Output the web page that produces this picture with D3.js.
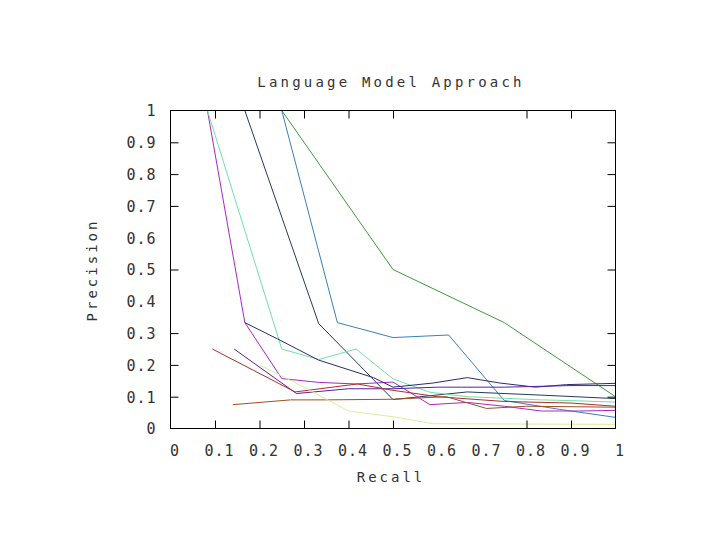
<!DOCTYPE html>
<html>
<head>
<meta charset="utf-8">
<script src="https://cdn.jsdelivr.net/npm/d3@7"></script>
<style>
  html, body { margin: 0; padding: 0; background: #fff; }
  text { font-family: "DejaVu Sans Mono", monospace; fill: #333; }
</style>
</head>
<body>
<svg id="chart" width="720" height="540"></svg>
<script>
// ---------- data ----------
const chartTitle = "Language Model Approach";
const xLabel = "Recall";
const yLabel = "Precision";
const xTickLabels = [0, 0.1, 0.2, 0.3, 0.4, 0.5, 0.6, 0.7, 0.8, 0.9, 1];
const yTickLabels = [0, 0.1, 0.2, 0.3, 0.4, 0.5, 0.6, 0.7, 0.8, 0.9, 1];
const xTickMarks = [0.1, 0.2, 0.3, 0.4, 0.5, 0.8, 0.9];
const yTickMarks = [0.1, 0.2, 0.3, 0.5, 0.7, 0.8, 0.9];

const recallA = [0.25, 0.5, 0.75, 1];
const precisionA = [1, 0.5, 0.333, 0.1];

const recallB = [0.125, 0.25, 0.375, 0.5, 0.625, 0.75, 0.875, 1];
const precisionB = [1, 1, 0.333, 0.286, 0.294, 0.088, 0.06, 0.035];

const recallC = [0.167, 0.333, 0.5, 0.667, 0.833, 1];
const precisionC = [1, 0.33, 0.091, 0.115, 0.105, 0.094];

const recallD = [0.083, 0.167, 0.25, 0.333, 0.417, 0.5, 0.583, 0.667, 0.75, 0.833, 0.917, 1];
const precisionD = [1, 0.333, 0.157, 0.145, 0.14, 0.146, 0.075, 0.082, 0.07, 0.055, 0.055, 0.057];

const recallE = [0.083, 0.25, 0.333, 0.417, 0.5, 0.583, 0.667, 0.75, 0.833, 0.917, 1];
const precisionE = [1, 0.25, 0.217, 0.25, 0.156, 0.114, 0.1, 0.095, 0.09, 0.087, 0.083];

const recallF = [0.167, 0.24, 0.333, 0.456, 0.5, 0.59, 0.667, 0.74, 0.82, 0.89, 1];
const precisionF = [0.333, 0.282, 0.215, 0.16, 0.13, 0.143, 0.16, 0.143, 0.13, 0.138, 0.142];

const recallG = [0.143, 0.283, 0.4, 0.5, 0.6, 0.75, 0.9, 1];
const precisionG = [0.25, 0.11, 0.125, 0.125, 0.13, 0.13, 0.135, 0.135];

const recallH = [0.094, 0.28, 0.42, 0.5, 0.6, 0.75, 0.9, 1];
const precisionH = [0.25, 0.115, 0.14, 0.12, 0.1, 0.085, 0.08, 0.07];

const recallI = [0.14, 0.27, 0.35, 0.5, 0.62, 0.71, 0.8, 1];
const precisionI = [0.075, 0.09, 0.09, 0.092, 0.1, 0.063, 0.07, 0.067];

const recallJ = [0.2, 0.3, 0.4, 0.5, 0.59, 1];
const precisionJ = [0.2, 0.13, 0.055, 0.037, 0.015, 0.013];

const seriesRecall = [recallA, recallB, recallC, recallD, recallE, recallF, recallG, recallH, recallI, recallJ];
const seriesPrecision = [precisionA, precisionB, precisionC, precisionD, precisionE, precisionF, precisionG, precisionH, precisionI, precisionJ];
const seriesColors = ["#3f9a3a", "#3a80b8", "#243a60", "#a828c4", "#70e0a8", "#2c2c6c", "#5a20a0", "#b02c2c", "#a0501e", "#d8f098"];

// ---------- layout ----------
const svg = d3.select("#chart");
const plotL = 170.5, plotR = 615.5, plotT = 110.5, plotB = 428.5;

const x = d3.scaleLinear().domain([0, 1]).range([plotL, plotR]);
const y = d3.scaleLinear().domain([0, 1]).range([plotB, plotT]);

// series
const line = d3.line().x(d => x(d[0])).y(d => y(d[1]));
const g = svg.append("g");
seriesRecall.forEach((rs, i) => {
  const pts = rs.map((r, k) => [r, seriesPrecision[i][k]]);
  g.append("path")
    .attr("d", line(pts))
    .attr("fill", "none")
    .attr("stroke", seriesColors[i])
    .attr("stroke-width", 1);
});

// frame
svg.append("rect")
  .attr("x", plotL).attr("y", plotT)
  .attr("width", plotR - plotL).attr("height", plotB - plotT)
  .attr("fill", "none").attr("stroke", "#000").attr("stroke-width", 1);

// tick marks (inward, mirrored)
const tickLen = 8;
function marks(axis) {
  return sel => {
    sel.call(axis);
    sel.select(".domain").remove();
    sel.selectAll(".tick line").attr("stroke", "#000");
    sel.selectAll("text").remove();
  };
}
svg.append("g").attr("transform", `translate(0,${plotB})`)
  .call(marks(d3.axisBottom(x).tickValues(xTickMarks).tickSize(-tickLen)));
svg.append("g").attr("transform", `translate(0,${plotT})`)
  .call(marks(d3.axisTop(x).tickValues(xTickMarks).tickSize(-tickLen)));
svg.append("g").attr("transform", `translate(${plotL},0)`)
  .call(marks(d3.axisLeft(y).tickValues(yTickMarks).tickSize(-tickLen)));
svg.append("g").attr("transform", `translate(${plotR},0)`)
  .call(marks(d3.axisRight(y).tickValues(yTickMarks).tickSize(-tickLen)));

// tick labels
function labelStyle(sel) {
  sel.select(".domain").remove();
  sel.selectAll(".tick line").remove();
  sel.selectAll("text")
    .attr("font-family", "DejaVu Sans Mono, monospace")
    .attr("font-size", 15)
    .attr("letter-spacing", "1px")
    .attr("fill", "#333");
}
const gB = svg.append("g").attr("transform", `translate(0,${plotB})`)
  .call(d3.axisBottom(x).tickValues(xTickLabels).tickSize(0).tickFormat(d => String(d)));
labelStyle(gB);
gB.selectAll("text").attr("dy", 0).attr("y", 27).attr("dx", 4);

const gL = svg.append("g").attr("transform", `translate(${plotL},0)`)
  .call(d3.axisLeft(y).tickValues(yTickLabels).tickSize(0).tickFormat(d => String(d)));
labelStyle(gL);
gL.selectAll("text").attr("x", -14).attr("dy", "0.36em");

// title & labels
svg.append("text")
  .attr("x", 391).attr("y", 87)
  .attr("text-anchor", "middle")
  .attr("font-size", 14).attr("letter-spacing", "3.2px")
  .text(chartTitle);

svg.append("text")
  .attr("x", 391).attr("y", 482)
  .attr("text-anchor", "middle")
  .attr("font-size", 14).attr("letter-spacing", "3px")
  .text(xLabel);

svg.append("text")
  .attr("transform", "translate(97,270) rotate(-90)")
  .attr("text-anchor", "middle")
  .attr("font-size", 14).attr("letter-spacing", "3px")
  .text(yLabel);
</script>
</body>
</html>
